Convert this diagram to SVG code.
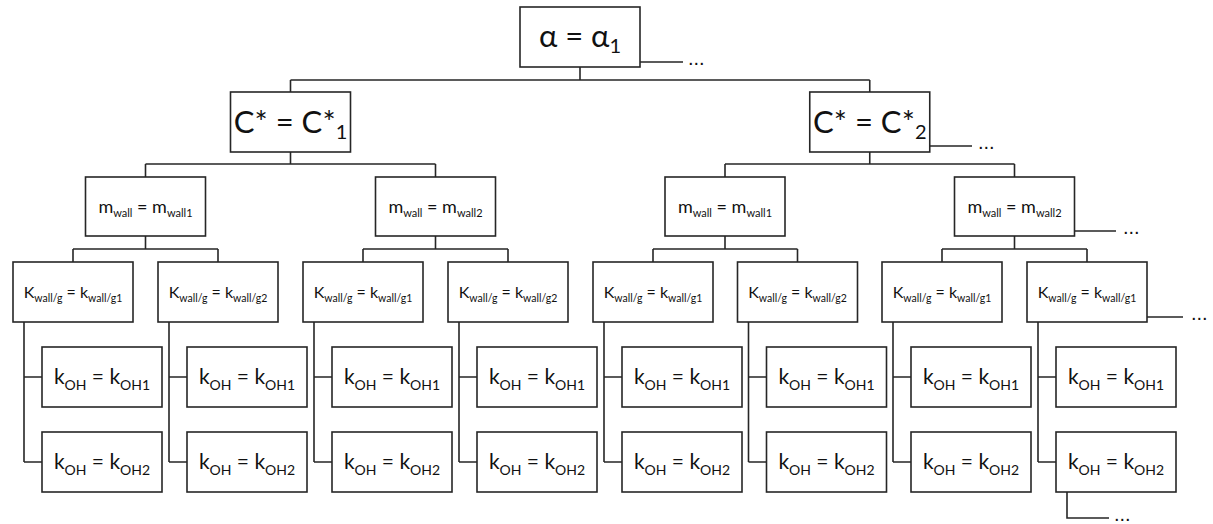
<svg xmlns="http://www.w3.org/2000/svg" width="1213" height="524" viewBox="0 0 1213 524">
<style>
.box{fill:#fff;stroke:#262626;stroke-width:1.6}
.ln{fill:none;stroke:#262626;stroke-width:1.6}
text{font-family:Lato,"Open Sans","Liberation Sans",sans-serif;fill:#111;text-anchor:middle}
.t1{font-size:31px}
.t2{font-size:18px}
.t3{font-size:16px}
.t4{font-size:21px}
.s1{font-size:20px}
.s2{font-size:11px}
.s3{font-size:10.5px}
.s4{font-size:14px}
.dots{font-family:"Liberation Sans",sans-serif;font-size:20px;text-anchor:start}
</style>
<rect width="1213" height="524" fill="#fff"/>
<g id="connectors">
<path class="ln" d="M580 67V80M290.5 80H869.75M290.5 80V92M869.75 80V92"/>
<path class="ln" d="M290.5 152V164M145.5 164H435.5M145.5 164V177M435.5 164V177"/>
<path class="ln" d="M869.75 152V164M725 164H1014.5M725 164V177M1014.5 164V177"/>
<path class="ln" d="M145.5 236V249M73 249H218M73 249V262M218 249V262"/>
<path class="ln" d="M435.5 236V249M363 249H508M363 249V262M508 249V262"/>
<path class="ln" d="M725 236V249M653 249H797.5M653 249V262M797.5 249V262"/>
<path class="ln" d="M1014.5 236V249M942 249H1087M942 249V262M1087 249V262"/>
<path class="ln" d="M24 322V462M24 377H42M24 462H42"/>
<path class="ln" d="M169 322V462M169 377H187M169 462H187"/>
<path class="ln" d="M314 322V462M314 377H332M314 462H332"/>
<path class="ln" d="M459 322V462M459 377H477M459 462H477"/>
<path class="ln" d="M604 322V462M604 377H622M604 462H622"/>
<path class="ln" d="M748.5 322V462M748.5 377H766.5M748.5 462H766.5"/>
<path class="ln" d="M893 322V462M893 377H911M893 462H911"/>
<path class="ln" d="M1038 322V462M1038 377H1056M1038 462H1056"/>
<path class="ln" d="M640 62H683M930 146H972M1074.5 231H1116M1147 317H1183M1067 492V518H1109"/>
<text class="dots" x="688" y="65">...</text>
<text class="dots" x="978" y="149">...</text>
<text class="dots" x="1123" y="234">...</text>
<text class="dots" x="1191" y="320">...</text>
<text class="dots" x="1114" y="521">...</text>
</g>
<g id="n-alpha"><rect class="box" x="520" y="7" width="120" height="60"/><text class="t1" x="580" y="47">α = α<tspan class="s1" dy="6">1</tspan></text></g>
<g id="n-c1"><rect class="box" x="230.5" y="92" width="120" height="60"/><text class="t1" x="290.5" y="133">C* = C*<tspan class="s1" dy="6">1</tspan></text></g>
<g id="n-c2"><rect class="box" x="809.75" y="92" width="120" height="60"/><text class="t1" x="869.75" y="133">C* = C*<tspan class="s1" dy="6">2</tspan></text></g>
<g id="n-m1"><rect class="box" x="85.5" y="177" width="120" height="59"/><text class="t2" x="145.5" y="213">m<tspan class="s2" dy="4">wall</tspan><tspan dy="-4"> = m</tspan><tspan class="s2" dy="4">wall1</tspan></text></g>
<g id="n-m2"><rect class="box" x="375.5" y="177" width="120" height="59"/><text class="t2" x="435.5" y="213">m<tspan class="s2" dy="4">wall</tspan><tspan dy="-4"> = m</tspan><tspan class="s2" dy="4">wall2</tspan></text></g>
<g id="n-m3"><rect class="box" x="665" y="177" width="120" height="59"/><text class="t2" x="725" y="213">m<tspan class="s2" dy="4">wall</tspan><tspan dy="-4"> = m</tspan><tspan class="s2" dy="4">wall1</tspan></text></g>
<g id="n-m4"><rect class="box" x="954.5" y="177" width="120" height="59"/><text class="t2" x="1014.5" y="213">m<tspan class="s2" dy="4">wall</tspan><tspan dy="-4"> = m</tspan><tspan class="s2" dy="4">wall2</tspan></text></g>
<g id="n-k1"><rect class="box" x="13" y="262" width="120" height="60"/><text class="t3" x="73" y="298">K<tspan class="s3" dy="4">wall/g</tspan><tspan dy="-4"> = k</tspan><tspan class="s3" dy="4">wall/g1</tspan></text></g>
<g id="n-k2"><rect class="box" x="158" y="262" width="120" height="60"/><text class="t3" x="218" y="298">K<tspan class="s3" dy="4">wall/g</tspan><tspan dy="-4"> = k</tspan><tspan class="s3" dy="4">wall/g2</tspan></text></g>
<g id="n-k3"><rect class="box" x="303" y="262" width="120" height="60"/><text class="t3" x="363" y="298">K<tspan class="s3" dy="4">wall/g</tspan><tspan dy="-4"> = k</tspan><tspan class="s3" dy="4">wall/g1</tspan></text></g>
<g id="n-k4"><rect class="box" x="448" y="262" width="120" height="60"/><text class="t3" x="508" y="298">K<tspan class="s3" dy="4">wall/g</tspan><tspan dy="-4"> = k</tspan><tspan class="s3" dy="4">wall/g2</tspan></text></g>
<g id="n-k5"><rect class="box" x="593" y="262" width="120" height="60"/><text class="t3" x="653" y="298">K<tspan class="s3" dy="4">wall/g</tspan><tspan dy="-4"> = k</tspan><tspan class="s3" dy="4">wall/g1</tspan></text></g>
<g id="n-k6"><rect class="box" x="737.5" y="262" width="120" height="60"/><text class="t3" x="797.5" y="298">K<tspan class="s3" dy="4">wall/g</tspan><tspan dy="-4"> = k</tspan><tspan class="s3" dy="4">wall/g2</tspan></text></g>
<g id="n-k7"><rect class="box" x="882" y="262" width="120" height="60"/><text class="t3" x="942" y="298">K<tspan class="s3" dy="4">wall/g</tspan><tspan dy="-4"> = k</tspan><tspan class="s3" dy="4">wall/g1</tspan></text></g>
<g id="n-k8"><rect class="box" x="1027" y="262" width="120" height="60"/><text class="t3" x="1087" y="298">K<tspan class="s3" dy="4">wall/g</tspan><tspan dy="-4"> = k</tspan><tspan class="s3" dy="4">wall/g1</tspan></text></g>
<g id="n-oh-1a"><rect class="box" x="42" y="347" width="120" height="60"/><text class="t4" x="102" y="384">k<tspan class="s4" dy="6">OH</tspan><tspan dy="-6"> = k</tspan><tspan class="s4" dy="6">OH1</tspan></text></g>
<g id="n-oh-1b"><rect class="box" x="42" y="432" width="120" height="60"/><text class="t4" x="102" y="469">k<tspan class="s4" dy="6">OH</tspan><tspan dy="-6"> = k</tspan><tspan class="s4" dy="6">OH2</tspan></text></g>
<g id="n-oh-2a"><rect class="box" x="187" y="347" width="120" height="60"/><text class="t4" x="247" y="384">k<tspan class="s4" dy="6">OH</tspan><tspan dy="-6"> = k</tspan><tspan class="s4" dy="6">OH1</tspan></text></g>
<g id="n-oh-2b"><rect class="box" x="187" y="432" width="120" height="60"/><text class="t4" x="247" y="469">k<tspan class="s4" dy="6">OH</tspan><tspan dy="-6"> = k</tspan><tspan class="s4" dy="6">OH2</tspan></text></g>
<g id="n-oh-3a"><rect class="box" x="332" y="347" width="120" height="60"/><text class="t4" x="392" y="384">k<tspan class="s4" dy="6">OH</tspan><tspan dy="-6"> = k</tspan><tspan class="s4" dy="6">OH1</tspan></text></g>
<g id="n-oh-3b"><rect class="box" x="332" y="432" width="120" height="60"/><text class="t4" x="392" y="469">k<tspan class="s4" dy="6">OH</tspan><tspan dy="-6"> = k</tspan><tspan class="s4" dy="6">OH2</tspan></text></g>
<g id="n-oh-4a"><rect class="box" x="477" y="347" width="120" height="60"/><text class="t4" x="537" y="384">k<tspan class="s4" dy="6">OH</tspan><tspan dy="-6"> = k</tspan><tspan class="s4" dy="6">OH1</tspan></text></g>
<g id="n-oh-4b"><rect class="box" x="477" y="432" width="120" height="60"/><text class="t4" x="537" y="469">k<tspan class="s4" dy="6">OH</tspan><tspan dy="-6"> = k</tspan><tspan class="s4" dy="6">OH2</tspan></text></g>
<g id="n-oh-5a"><rect class="box" x="622" y="347" width="120" height="60"/><text class="t4" x="682" y="384">k<tspan class="s4" dy="6">OH</tspan><tspan dy="-6"> = k</tspan><tspan class="s4" dy="6">OH1</tspan></text></g>
<g id="n-oh-5b"><rect class="box" x="622" y="432" width="120" height="60"/><text class="t4" x="682" y="469">k<tspan class="s4" dy="6">OH</tspan><tspan dy="-6"> = k</tspan><tspan class="s4" dy="6">OH2</tspan></text></g>
<g id="n-oh-6a"><rect class="box" x="766.5" y="347" width="120" height="60"/><text class="t4" x="826.5" y="384">k<tspan class="s4" dy="6">OH</tspan><tspan dy="-6"> = k</tspan><tspan class="s4" dy="6">OH1</tspan></text></g>
<g id="n-oh-6b"><rect class="box" x="766.5" y="432" width="120" height="60"/><text class="t4" x="826.5" y="469">k<tspan class="s4" dy="6">OH</tspan><tspan dy="-6"> = k</tspan><tspan class="s4" dy="6">OH2</tspan></text></g>
<g id="n-oh-7a"><rect class="box" x="911" y="347" width="120" height="60"/><text class="t4" x="971" y="384">k<tspan class="s4" dy="6">OH</tspan><tspan dy="-6"> = k</tspan><tspan class="s4" dy="6">OH1</tspan></text></g>
<g id="n-oh-7b"><rect class="box" x="911" y="432" width="120" height="60"/><text class="t4" x="971" y="469">k<tspan class="s4" dy="6">OH</tspan><tspan dy="-6"> = k</tspan><tspan class="s4" dy="6">OH2</tspan></text></g>
<g id="n-oh-8a"><rect class="box" x="1056" y="347" width="120" height="60"/><text class="t4" x="1116" y="384">k<tspan class="s4" dy="6">OH</tspan><tspan dy="-6"> = k</tspan><tspan class="s4" dy="6">OH1</tspan></text></g>
<g id="n-oh-8b"><rect class="box" x="1056" y="432" width="120" height="60"/><text class="t4" x="1116" y="469">k<tspan class="s4" dy="6">OH</tspan><tspan dy="-6"> = k</tspan><tspan class="s4" dy="6">OH2</tspan></text></g>
</svg>
